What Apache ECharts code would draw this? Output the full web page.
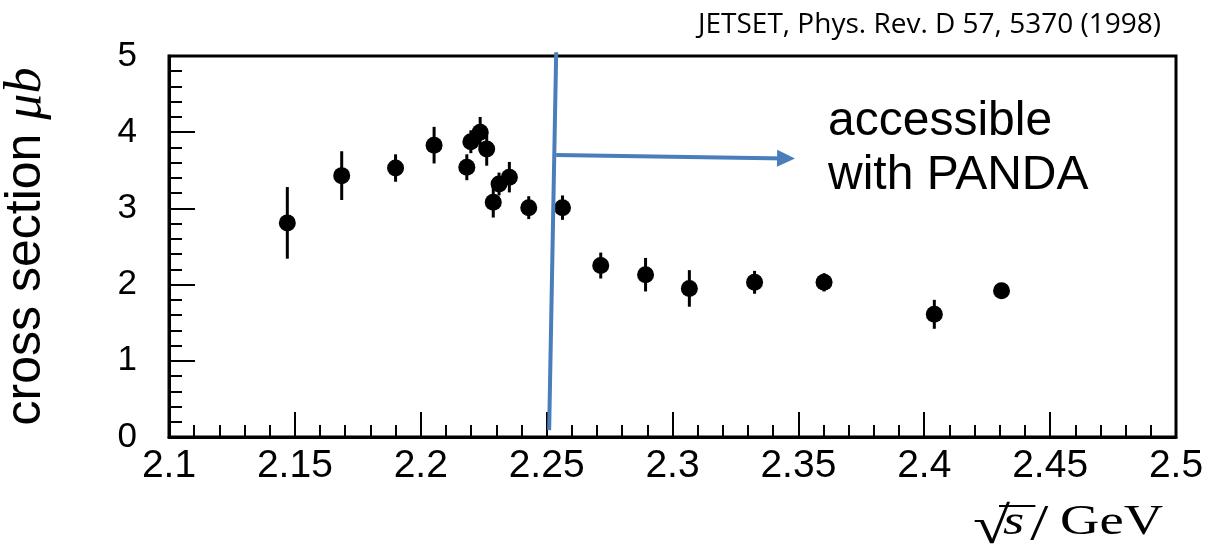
<!DOCTYPE html>
<html>
<head>
<meta charset="utf-8">
<script src="https://cdn.jsdelivr.net/npm/echarts@6/dist/echarts.min.js"></script>
<style>
html,body{margin:0;padding:0;background:#fff;}
#chart{width:1209px;height:554px;}
</style>
</head>
<body>
<div id="chart"></div>
<script>
// Data (JETSET cross section)
var energies = [2.147, 2.1686, 2.190, 2.2053, 2.2183, 2.2199, 2.2236, 2.2262, 2.2288, 2.2311, 2.2352, 2.2429, 2.2563, 2.2715, 2.2893, 2.3067, 2.3326, 2.3602, 2.404, 2.4307];
var crossSections = [2.81, 3.43, 3.53, 3.83, 3.54, 3.875, 4.0, 3.78, 3.08, 3.32, 3.41, 3.01, 3.01, 2.25, 2.13, 1.95, 2.03, 2.03, 1.61, 1.92];
var errors = [0.47, 0.32, 0.18, 0.24, 0.17, 0.15, 0.20, 0.22, 0.20, 0.15, 0.20, 0.15, 0.16, 0.17, 0.22, 0.24, 0.15, 0.12, 0.19, 0.08];

// Annotation geometry (in data units)
var thresholdLine = [[2.2510, 0.09], [2.2538, 5.05]];
var arrowLine = [[2.2538, 3.70], [2.3451, 3.655]];

var annotationText = 'accessible\nwith PANDA';
var citation = 'JETSET, Phys. Rev. D 57, 5370 (1998)';

var points = energies.map(function (x, i) { return [x, crossSections[i]]; });
var errData = energies.map(function (x, i) { return [x, crossSections[i] - errors[i], crossSections[i] + errors[i]]; });

var chart = echarts.init(document.getElementById('chart'), null, {renderer: 'canvas'});

var option = {
  animation: false,
  backgroundColor: '#fff',
  grid: {
    left: 169, right: 33, top: 56, bottom: 117,
    containLabel: false, outerBoundsMode: 'none',
    show: true, borderColor: '#000', borderWidth: 3, backgroundColor: 'transparent'
  },
  xAxis: {
    type: 'value', min: 2.1, max: 2.5, interval: 0.05,
    axisLine: {show: true, lineStyle: {color: '#000', width: 3}},
    axisTick: {show: true, inside: true, length: 25, lineStyle: {color: '#000', width: 2}},
    minorTick: {show: true, splitNumber: 5, length: 12, lineStyle: {color: '#000', width: 2}},
    splitLine: {show: false},
    axisLabel: {
      color: '#000', fontFamily: 'Liberation Sans', fontSize: 39, margin: 10,
      formatter: function (v) { return parseFloat(v.toFixed(2)).toString(); }
    }
  },
  yAxis: {
    type: 'value', min: 0, max: 5, interval: 1,
    name: '{t|cross section }{m|μb}',
    nameLocation: 'middle', nameGap: 117, nameRotate: 90,
    nameTextStyle: {
      rich: {
        t: {fontFamily: 'Liberation Sans', fontSize: 50, color: '#000'},
        m: {fontFamily: 'Liberation Serif', fontStyle: 'italic', fontSize: 52, color: '#000'}
      }
    },
    axisLine: {show: true, lineStyle: {color: '#000', width: 3}},
    axisTick: {show: true, inside: true, length: 26, lineStyle: {color: '#000', width: 2}},
    minorTick: {show: true, splitNumber: 5, length: 13, lineStyle: {color: '#000', width: 2}},
    splitLine: {show: false},
    axisLabel: {color: '#000', fontFamily: 'Liberation Sans', fontSize: 35, margin: 32}
  },
  series: [
    {
      type: 'custom',
      name: 'errors',
      data: errData,
      z: 3,
      renderItem: function (params, api) {
        var lo = api.coord([api.value(0), api.value(1)]);
        var hi = api.coord([api.value(0), api.value(2)]);
        return {
          type: 'line',
          shape: {x1: lo[0], y1: lo[1], x2: hi[0], y2: hi[1]},
          style: {stroke: '#000', lineWidth: 3}
        };
      }
    },
    {
      type: 'scatter',
      name: 'data',
      data: points,
      symbol: 'circle',
      symbolSize: 17,
      itemStyle: {color: '#000', opacity: 1},
      z: 4
    },
    {
      type: 'line',
      name: 'threshold',
      data: thresholdLine,
      symbol: 'none',
      clip: false,
      lineStyle: {color: '#4a7ebb', width: 4},
      z: 5,
      markLine: {
        silent: true,
        symbol: ['none', 'triangle'],
        symbolSize: [17, 18],
        label: {show: false},
        lineStyle: {color: '#4a7ebb', width: 4, type: 'solid'},
        data: [[{coord: arrowLine[0]}, {coord: arrowLine[1]}]]
      }
    }
  ],
  graphic: [
    {
      type: 'text', left: 828, top: 95,
      style: {
        text: annotationText, fill: '#000',
        font: '48px "Liberation Sans"', lineHeight: 54
      }
    },
    {
      type: 'text', x: 1161, y: 25,
      style: {text: citation, fill: '#000', font: '28px "Open Sans"', align: 'right', verticalAlign: 'middle'}
    },
    {
      type: 'group', x: 973, y: 0, scaleX: 1.3, scaleY: 1,
      children: [
        {type: 'text', x: 0, y: 529, style: {text: '√', fill: '#000', font: '52px "Liberation Serif"', verticalAlign: 'middle'}},
        {type: 'line', shape: {x1: 20, y1: 506, x2: 48, y2: 506}, style: {stroke: '#000', lineWidth: 2}},
        {type: 'text', x: 23, y: 523, style: {text: 's', fill: '#000', font: 'italic 42px "Liberation Serif"', verticalAlign: 'middle'}},
        {type: 'text', x: 44, y: 526, style: {text: '/', fill: '#000', font: '50px "Liberation Serif"', verticalAlign: 'middle'}},
        {type: 'text', x: 67, y: 523, style: {text: 'GeV', fill: '#000', font: '42px "Liberation Serif"', verticalAlign: 'middle'}}
      ]
    }
  ]
};
chart.setOption(option);
</script>
</body>
</html>
